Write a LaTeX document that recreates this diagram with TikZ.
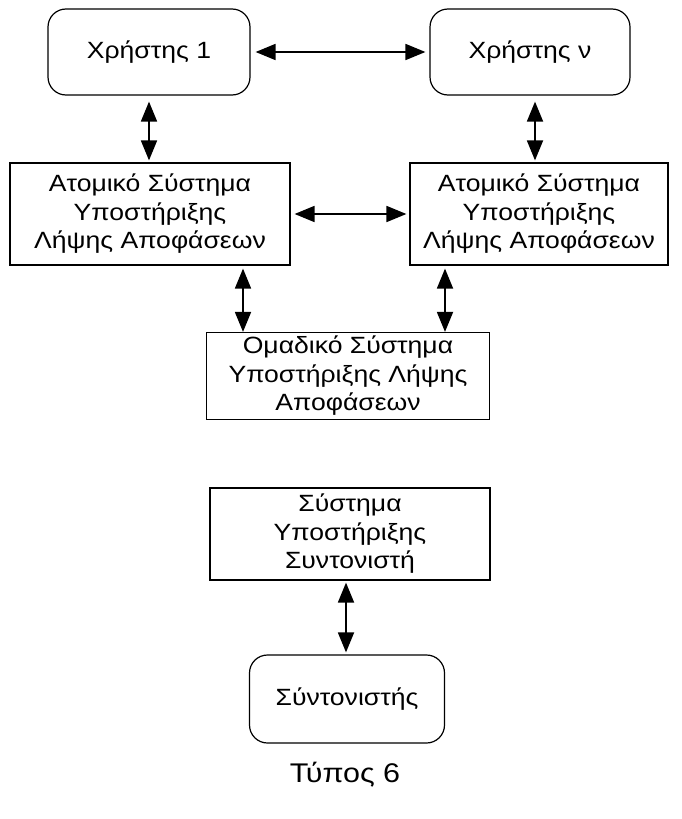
\documentclass[tikz,border=0pt]{standalone}
\usepackage{fontspec}
\setmainfont[FakeStretch=1.13]{Liberation Sans}
\usetikzlibrary{arrows.meta}
\begin{document}
\begin{tikzpicture}[x=1pt,y=1pt,
  box/.style={draw, line width=1.2pt, align=center, inner sep=0pt,
    font=\fontsize{23.5}{28.5}\selectfont},
  rbox/.style={box, rounded corners=18pt},
  arr/.style={line width=1.8pt, {Triangle[width=16pt,length=20pt]}-{Triangle[width=16pt,length=20pt]}}]
\useasboundingbox (0,0) rectangle (682,-819);
\node[rbox, minimum width=202pt, minimum height=86pt] (u1) at (149,-52) {Χρήστης 1};
\node[rbox, minimum width=200pt, minimum height=86pt] (un) at (530,-52) {Χρήστης ν};
\node[box, minimum width=280pt, minimum height=102pt] (a1) at (150,-214) {Ατομικό Σύστημα\\Υποστήριξης\\Λήψης Αποφάσεων};
\node[box, minimum width=258pt, minimum height=102pt] (an) at (539,-214) {Ατομικό Σύστημα\\Υποστήριξης\\Λήψης Αποφάσεων};
\node[box, minimum width=283pt, minimum height=87pt] (g) at (348,-376) {Ομαδικό Σύστημα\\Υποστήριξης Λήψης\\Αποφάσεων};
\node[box, minimum width=280pt, minimum height=92pt] (s) at (350,-534) {Σύστημα\\Υποστήριξης\\Συντονιστή};
\node[rbox, minimum width=195pt, minimum height=88pt] (c) at (347,-699) {Σύντονιστής};
\node[font=\fontsize{27}{32}\selectfont] (cap) at (345,-775) {Τύπος 6};
\draw[arr] ([xshift=5pt]u1.east) -- ([xshift=-4pt]un.west);
\draw[arr] ([yshift=-6pt]u1.south) -- ([yshift=2pt]u1.south |- a1.north);
\draw[arr] ([xshift=5pt,yshift=-6pt]un.south) -- ([xshift=5pt,yshift=2pt]un.south |- an.north);
\draw[arr] ([xshift=4pt]a1.east) -- ([xshift=-3pt]an.west);
\draw[arr] ([xshift=93pt,yshift=-3pt]a1.south) -- ([xshift=93pt]a1.south |- g.north);
\draw[arr] ([xshift=-94pt,yshift=-3pt]an.south) -- ([xshift=-94pt]an.south |- g.north);
\draw[arr] ([xshift=-4pt,yshift=-2pt]s.south) -- ([xshift=-4pt,yshift=2pt]s.south |- c.north);
\end{tikzpicture}
\end{document}
